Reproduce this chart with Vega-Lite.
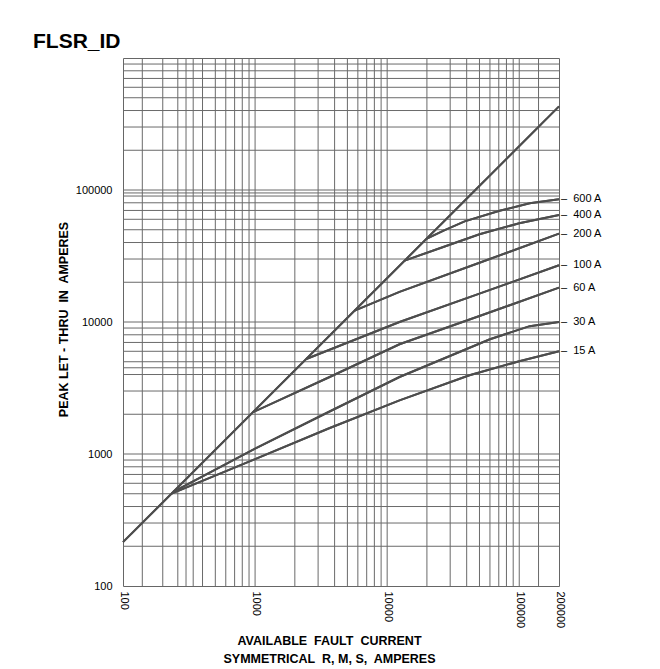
{
  "$schema": "https://vega.github.io/schema/vega-lite/v6.json",
  "width": 436,
  "height": 528,
  "autosize": "none",
  "padding": {"left": 123, "top": 58, "right": 101, "bottom": 83},
  "background": "white",
  "title": {
    "text": "FLSR_ID",
    "anchor": "start",
    "frame": "group",
    "dx": -90,
    "dy": 22,
    "offset": 11,
    "fontSize": 21,
    "font": "Liberation Sans, Arial, sans-serif",
    "fontWeight": "bold",
    "color": "black",
    "baseline": "alphabetic"
  },
  "config": {
    "view": {"stroke": "#666666", "strokeWidth": 1}
  },
  "datasets": {
    "vgrid": [
      {"v": 140}, {"v": 200}, {"v": 260}, {"v": 300}, {"v": 340}, {"v": 400}, {"v": 500}, {"v": 600}, {"v": 700}, {"v": 800}, {"v": 900},
      {"v": 1000}, {"v": 2000}, {"v": 3000}, {"v": 4000}, {"v": 5000}, {"v": 6000}, {"v": 7000}, {"v": 8000}, {"v": 9000},
      {"v": 10000}, {"v": 20000}, {"v": 30000}, {"v": 40000}, {"v": 50000}, {"v": 60000}, {"v": 70000}, {"v": 80000}, {"v": 90000},
      {"v": 100000}, {"v": 140000}
    ],
    "hgrid": [
      {"v": 200}, {"v": 300}, {"v": 400}, {"v": 500}, {"v": 600}, {"v": 700}, {"v": 800}, {"v": 900},
      {"v": 1000}, {"v": 2000}, {"v": 3000}, {"v": 4000}, {"v": 4500}, {"v": 5000}, {"v": 6000}, {"v": 7000}, {"v": 8000}, {"v": 9000},
      {"v": 10000}, {"v": 20000}, {"v": 30000}, {"v": 40000}, {"v": 50000}, {"v": 60000}, {"v": 70000}, {"v": 80000}, {"v": 90000}, {"v": 95000},
      {"v": 100000}, {"v": 200000}, {"v": 300000}, {"v": 400000}, {"v": 500000}, {"v": 600000}, {"v": 700000}, {"v": 800000}, {"v": 900000}
    ],
    "curves": [
      {"rating": "max", "x": 100, "y": 215},
      {"rating": "max", "x": 200000, "y": 430000},
      {"rating": "15 A", "x": 233, "y": 501},
      {"rating": "15 A", "x": 1000, "y": 915},
      {"rating": "15 A", "x": 3600, "y": 1560},
      {"rating": "15 A", "x": 12400, "y": 2550},
      {"rating": "15 A", "x": 42000, "y": 3950},
      {"rating": "15 A", "x": 100000, "y": 5050},
      {"rating": "15 A", "x": 200000, "y": 6000},
      {"rating": "30 A", "x": 240, "y": 516},
      {"rating": "30 A", "x": 1000, "y": 1100},
      {"rating": "30 A", "x": 3600, "y": 2080},
      {"rating": "30 A", "x": 12400, "y": 3830},
      {"rating": "30 A", "x": 60000, "y": 7400},
      {"rating": "30 A", "x": 120000, "y": 9300},
      {"rating": "30 A", "x": 200000, "y": 10000},
      {"rating": "60 A", "x": 964, "y": 2073},
      {"rating": "60 A", "x": 3600, "y": 3800},
      {"rating": "60 A", "x": 12400, "y": 6780},
      {"rating": "60 A", "x": 50000, "y": 11100},
      {"rating": "60 A", "x": 200000, "y": 18200},
      {"rating": "100 A", "x": 2440, "y": 5246},
      {"rating": "100 A", "x": 12400, "y": 10000},
      {"rating": "100 A", "x": 50000, "y": 16400},
      {"rating": "100 A", "x": 200000, "y": 26900},
      {"rating": "200 A", "x": 5675, "y": 12200},
      {"rating": "200 A", "x": 12400, "y": 16900},
      {"rating": "200 A", "x": 50000, "y": 28100},
      {"rating": "200 A", "x": 200000, "y": 46700},
      {"rating": "400 A", "x": 13570, "y": 29180},
      {"rating": "400 A", "x": 25000, "y": 36200},
      {"rating": "400 A", "x": 50000, "y": 46200},
      {"rating": "400 A", "x": 100000, "y": 56000},
      {"rating": "400 A", "x": 200000, "y": 64700},
      {"rating": "600 A", "x": 19800, "y": 42570},
      {"rating": "600 A", "x": 27000, "y": 49500},
      {"rating": "600 A", "x": 38600, "y": 57900},
      {"rating": "600 A", "x": 71000, "y": 69600},
      {"rating": "600 A", "x": 120000, "y": 79300},
      {"rating": "600 A", "x": 200000, "y": 85000}
    ],
    "labels": [
      {"x": 200000, "y": 85000, "t": "\u2013\u00a0 600 A"},
      {"x": 200000, "y": 64700, "t": "\u2013\u00a0 400 A"},
      {"x": 200000, "y": 46700, "t": "\u2013\u00a0 200 A"},
      {"x": 200000, "y": 26900, "t": "\u2013\u00a0 100 A"},
      {"x": 200000, "y": 18200, "t": "\u2013\u00a0 60 A"},
      {"x": 200000, "y": 10000, "t": "\u2013\u00a0 30 A"},
      {"x": 200000, "y": 6000, "t": "\u2013\u00a0 15 A"}
    ]
  },
  "layer": [
    {
      "data": {"name": "curves"},
      "mark": {"type": "line", "color": "#4d4d4d", "strokeWidth": 2},
      "encoding": {
        "detail": {"field": "rating"},
        "x": {
          "field": "x", "type": "quantitative",
          "scale": {"type": "log", "domain": [100, 200000], "nice": false},
          "axis": {
            "values": [100, 1000, 10000, 100000, 200000],
            "format": "d",
            "labelAngle": 90,
            "labelAlign": "left",
            "labelBaseline": "middle",
            "labelPadding": 5,
            "ticks": false,
            "tickSize": 0,
            "domain": false,
            "grid": false,
            "labelFlush": false,
            "labelOverlap": false,
            "labelBound": false,
            "labelFont": "Liberation Sans, Arial, sans-serif",
            "labelFontSize": 11,
            "labelColor": "black",
            "title": ["AVAILABLE\u00a0 FAULT\u00a0 CURRENT", "SYMMETRICAL\u00a0 R, M, S,\u00a0 AMPERES"],
            "titleFont": "Liberation Sans, Arial, sans-serif",
            "titleFontSize": 12.5,
            "titleFontWeight": "bold",
            "titleColor": "black",
            "titleAngle": 0,
            "titleX": 206,
            "titleY": 58,
            "titleAlign": "center",
            "titleBaseline": "alphabetic",
            "titleLineHeight": 18
          }
        },
        "y": {
          "field": "y", "type": "quantitative",
          "scale": {"type": "log", "domain": [100, 1000000], "nice": false},
          "axis": {
            "values": [100, 1000, 10000, 100000],
            "format": "d",
            "labelPadding": 11,
            "ticks": false,
            "tickSize": 0,
            "domain": false,
            "grid": false,
            "labelFlush": false,
            "labelOverlap": false,
            "labelBound": false,
            "labelAlign": "right",
            "labelBaseline": "middle",
            "labelFont": "Liberation Sans, Arial, sans-serif",
            "labelFontSize": 11,
            "labelColor": "black",
            "title": "PEAK LET - THRU\u00a0 IN\u00a0 AMPERES",
            "titleFont": "Liberation Sans, Arial, sans-serif",
            "titleFontSize": 12.5,
            "titleFontWeight": "bold",
            "titleColor": "black",
            "titleAngle": -90,
            "titleX": -60,
            "titleY": 261,
            "titleAlign": "center",
            "titleBaseline": "middle"
          }
        }
      }
    },
    {
      "data": {"name": "vgrid"},
      "mark": {"type": "rule", "color": "#6a6a6a", "strokeWidth": 1},
      "encoding": {
        "x": {"field": "v", "type": "quantitative", "scale": {"type": "log", "domain": [100, 200000], "nice": false}}
      }
    },
    {
      "data": {"name": "hgrid"},
      "mark": {"type": "rule", "color": "#6a6a6a", "strokeWidth": 1},
      "encoding": {
        "y": {"field": "v", "type": "quantitative", "scale": {"type": "log", "domain": [100, 1000000], "nice": false}}
      }
    },
    {
      "data": {"name": "curves"},
      "mark": {"type": "line", "color": "#4d4d4d", "strokeWidth": 2},
      "encoding": {
        "detail": {"field": "rating"},
        "x": {"field": "x", "type": "quantitative", "scale": {"type": "log", "domain": [100, 200000], "nice": false}},
        "y": {"field": "y", "type": "quantitative", "scale": {"type": "log", "domain": [100, 1000000], "nice": false}}
      }
    },
    {
      "data": {"name": "labels"},
      "mark": {"type": "text", "align": "left", "baseline": "middle", "dx": 2, "fontSize": 11, "font": "Liberation Sans, Arial, sans-serif", "color": "black"},
      "encoding": {
        "x": {"field": "x", "type": "quantitative", "scale": {"type": "log", "domain": [100, 200000], "nice": false}},
        "y": {"field": "y", "type": "quantitative", "scale": {"type": "log", "domain": [100, 1000000], "nice": false}},
        "text": {"field": "t"}
      }
    }
  ]
}
